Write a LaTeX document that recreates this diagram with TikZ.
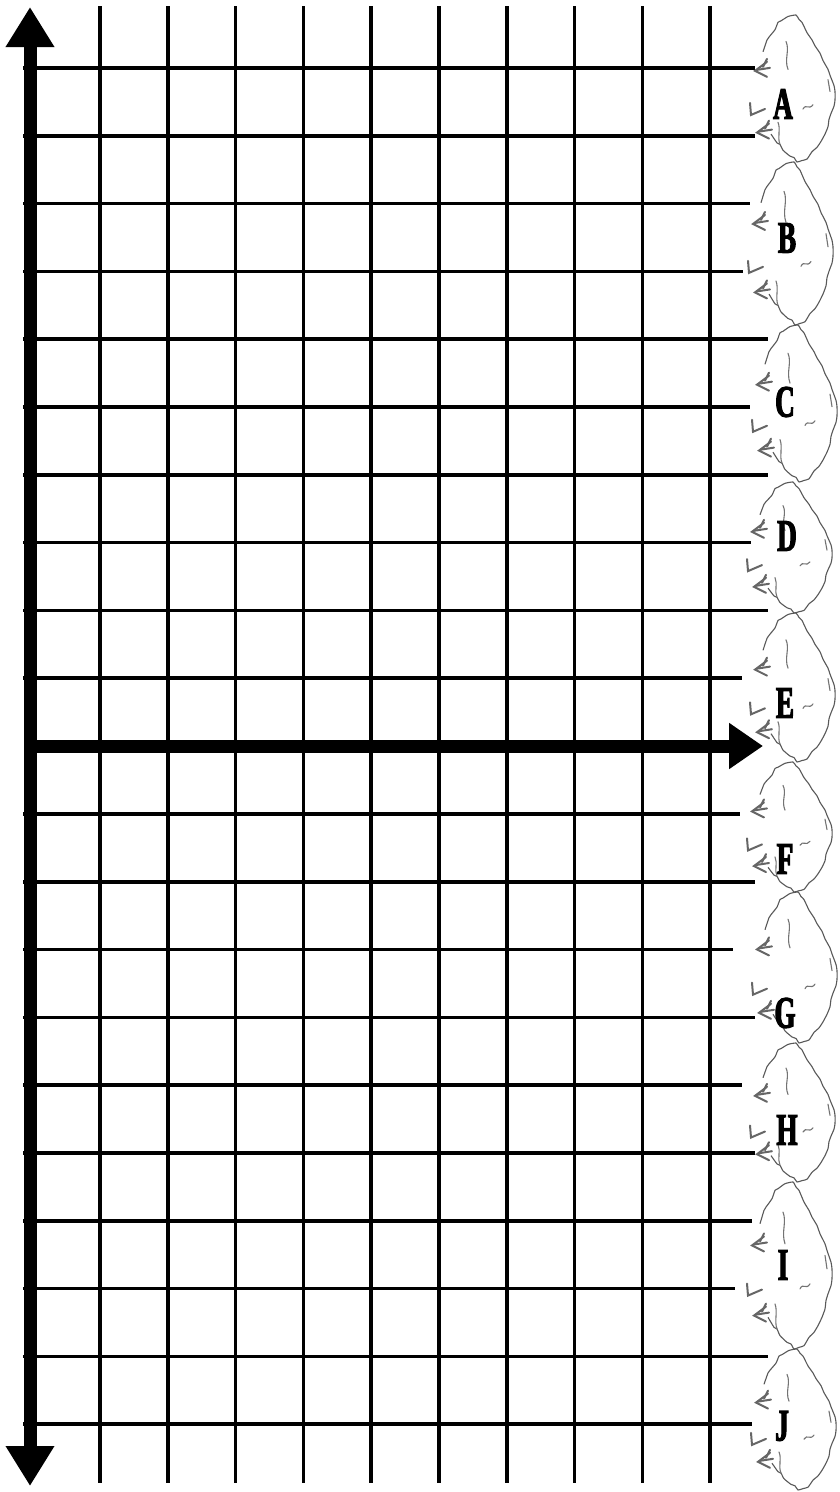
\documentclass[tikz,border=0pt]{standalone}
\usepackage{fontspec}
\newfontfamily\rockfont{Liberation Serif}[FakeStretch=0.6, FakeBold=2.5]
\usetikzlibrary{arrows.meta}
\tikzset{
  gridline/.style={line width=3.6pt},
  axisline/.style={line width=13pt},
  rockline/.style={black!65, line width=1.1pt, line join=round},
  crackline/.style={black!55, line width=1.1pt, line cap=round},
  tuftline/.style={black!60, line width=2pt, line cap=round},
  rocklabel/.style={inner sep=0pt, font=\rockfont\bfseries\fontsize{45}{45}\selectfont},
  tufta/.pic={
    \draw[tuftline] (12,-9) -- (0,0) -- (12,6);
    \draw[tuftline] (2,-1) -- (15,-3);
    \draw[tuftline] (8,-4) -- (12,-12);
  },
  tuftb/.pic={
    \draw[tuftline] (-1,-12) -- (0,0) -- (14,-6);
  }
}
\begin{document}
\begin{tikzpicture}[x=1pt,y=-1pt]
  \fill[white] (0,0) rectangle (839,1492);
  \useasboundingbox (0,0) rectangle (839,1492);

  \foreach \i in {0,...,9}
    \draw[gridline] ({100+67.8*\i},6) -- ({100+67.8*\i},1483);
  \foreach \y/\e in {68/755, 135.8/755, 203.6/750, 271.4/743, 339.2/768,
                     407/750, 474.8/768, 542.6/751, 610.4/768, 678.2/742,
                     814/740, 881.8/755, 949.6/733, 1017.4/755, 1085.2/742,
                     1153/755, 1220.8/752, 1288.6/735, 1356.4/768, 1424.2/752}
    \draw[gridline] (23,\y) -- (\e,\y);

  \coordinate (ytop) at (30,7);
  \coordinate (ybot) at (30,1486);
  \coordinate (origin) at (24,746);
  \coordinate (xend) at (763,746);
  \draw[axisline, {Triangle[width=46pt,length=40pt]}-{Triangle[width=46pt,length=40pt]}] (ybot) -- (ytop);
  \draw[axisline, -{Triangle[width=44pt,length=34pt]}] (origin) -- (xend);

  \foreach \t/\b/\s in {15/162/0, 162/325/-2, 325/482/2, 482/613/-3, 613/762/0,
                        762/892/-3, 892/1043/2, 1043/1182/0, 1182/1349/-3, 1349/1490/1}
  {
    \begin{scope}[shift={(750+\s,\t)}, yscale={(\b-\t)/100}]
      \draw[rockline] plot[smooth, tension=0.3] coordinates {(13,25) (17,17) (19,15)
        (25,10) (28,5) (31,4) (38,1) (46,0) (49,3) (52,5) (57,12) (62,17) (65,21)
        (70,26) (73,31) (78,37) (80,41) (84,48) (85,52) (85,58) (84,62) (81,67)
        (79,71) (78,76) (75,81) (71,86) (67,90) (62,93) (57,98) (52,99) (47,100)
        (44,97) (40,96) (33,92) (30,88) (27,87) (21,81)};
      \draw[crackline] (36,18) .. controls (40,24) and (34,30) .. (38,37);
      \draw[crackline] (53,64) .. controls (56,60) and (59,65) .. (63,61);
      \draw[crackline] (78,44) -- (80,52);
      \draw[crackline] (28,73) .. controls (31,78) and (27,83) .. (30,88);
      \pic at (5,38) {tufta};
      \pic at (1,68) {tuftb};
      \pic at (7,80) {tufta};
    \end{scope}
  }

  \begin{scope}[every node/.append style={rocklabel}]
    \node (labA) at (783,104) {A};
    \node (labB) at (787,238) {B};
    \node (labC) at (785,402) {C};
    \node (labD) at (787,536) {D};
    \node (labE) at (785,703) {E};
    \node (labF) at (785,859) {F};
    \node (labG) at (785,1013) {G};
    \node (labH) at (787,1130) {H};
    \node (labI) at (783,1265) {I};
    \node (labJ) at (782,1426) {J};
  \end{scope}
\end{tikzpicture}
\end{document}
